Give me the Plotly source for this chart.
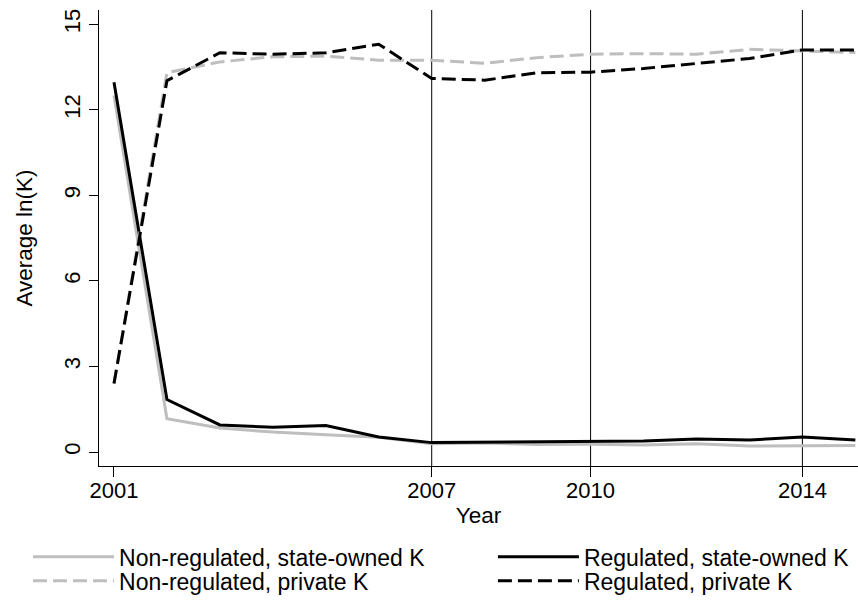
import plotly.graph_objects as go

# Average ln(K) by ownership of capital and regulation status
years = [2001, 2002, 2003, 2004, 2005, 2006, 2007, 2008,
         2009, 2010, 2011, 2012, 2013, 2014, 2015]
nonreg_state = [12.50, 1.17, 0.84, 0.70, 0.61, 0.52, 0.29, 0.32,
                0.26, 0.27, 0.25, 0.29, 0.21, 0.23, 0.23]
reg_state = [12.97, 1.84, 0.95, 0.87, 0.93, 0.53, 0.33, 0.35,
             0.37, 0.39, 0.39, 0.46, 0.42, 0.53, 0.42]
nonreg_private = [2.40, 13.30, 13.68, 13.86, 13.88, 13.74, 13.74, 13.63,
                  13.83, 13.95, 13.97, 13.95, 14.12, 14.07, 14.01]
reg_private = [2.40, 13.02, 14.00, 13.95, 14.00, 14.30, 13.10, 13.04,
               13.30, 13.32, 13.45, 13.63, 13.80, 14.10, 14.10]

reference_years = [2007, 2010, 2014]
x_ticks = [2001, 2007, 2010, 2014]
y_ticks = [0, 3, 6, 9, 12, 15]

FONT = "Liberation Sans, Arial, Helvetica, sans-serif"
GRAY = "rgb(190,190,190)"
BLACK = "black"
DASH = "14px,6px"

# (label, values, colour, dash, legend id, legend x, legend y)
series = [
    ("Non-regulated, state-owned K", nonreg_state, GRAY, "solid", "legend", -0.0935, -0.199),
    ("Regulated, state-owned K", reg_state, BLACK, "solid", "legend2", 0.519, -0.199),
    ("Non-regulated, private K", nonreg_private, GRAY, DASH, "legend3", -0.0935, -0.252),
    ("Regulated, private K", reg_private, BLACK, DASH, "legend4", 0.519, -0.252),
]

fig = go.Figure()
legends = {}
for name, vals, color, dash, leg, lx, ly in series:
    fig.add_trace(go.Scatter(
        x=years, y=vals, name=name, mode="lines",
        line=dict(color=color, width=3, dash=dash),
        legend=leg,
    ))
    legends[leg] = dict(
        x=lx, xanchor="left", y=ly, yanchor="middle",
        itemwidth=81, itemclick=False, itemdoubleclick=False,
        bgcolor="rgba(0,0,0,0)", borderwidth=0,
        font=dict(family=FONT, size=23, color="black"),
    )

for yr in reference_years:
    fig.add_vline(x=yr, line=dict(color="black", width=1), layer="below")

fig.update_layout(
    width=858, height=607,
    margin=dict(l=99, r=0, t=10, b=141),
    paper_bgcolor="white", plot_bgcolor="white",
    font=dict(family=FONT, size=22, color="black"),
    showlegend=True,
    xaxis=dict(
        range=[2000.717, 2015.05],
        tickmode="array", tickvals=x_ticks,
        ticks="outside", ticklen=10, tickwidth=1, tickcolor="black",
        ticklabelstandoff=-5,
        showline=True, linecolor="black", linewidth=1,
        showgrid=False, zeroline=False,
        title=dict(text="Year", standoff=4,
                   font=dict(family=FONT, size=22.5, color="black")),
    ),
    yaxis=dict(
        range=[-0.49, 15.50],
        tickmode="array", tickvals=y_ticks,
        tickangle=-90,
        ticks="outside", ticklen=9, tickwidth=1, tickcolor="black",
        showline=True, linecolor="black", linewidth=1,
        showgrid=False, zeroline=False,
        title=dict(text="Average ln(K)", standoff=21,
                   font=dict(family=FONT, size=22.5, color="black")),
    ),
    **legends,
)

fig.write_html("out.html")
